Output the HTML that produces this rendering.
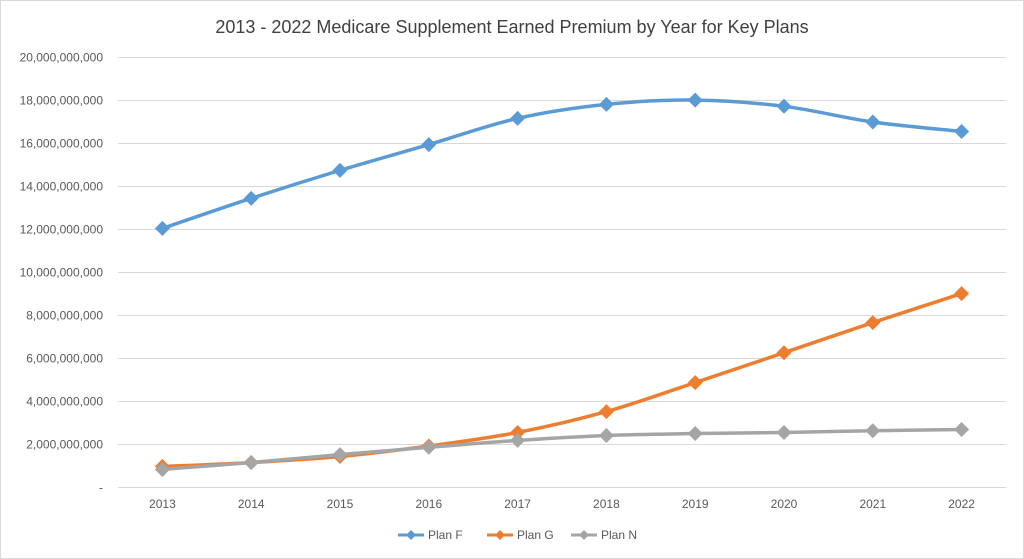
<!DOCTYPE html>
<html><head><meta charset="utf-8"><style>
html,body{margin:0;padding:0;background:#fff;}
svg{display:block;font-family:"Liberation Sans",sans-serif;}
</style></head><body>
<svg id="chart" width="1024" height="559" viewBox="0 0 1024 559">
<rect x="0.5" y="0.5" width="1023" height="558" fill="#fff" stroke="#d9d9d9"/>
<text x="512" y="33" text-anchor="middle" font-size="18" fill="#404040">2013 - 2022 Medicare Supplement Earned Premium by Year for Key Plans</text>
<g id="grid"></g><g id="yticks"></g><g id="xticks"></g><g id="series"></g><g id="legend"></g>
</svg>
<script>
const years=["2013","2014","2015","2016","2017","2018","2019","2020","2021","2022"];
const planF=[12.05,13.45,14.75,15.95,17.17,17.82,18.02,17.73,17.0,16.56];
const planG=[0.98,1.16,1.44,1.93,2.56,3.53,4.88,6.27,7.67,9.02];
const planN=[0.84,1.16,1.53,1.87,2.19,2.42,2.51,2.56,2.64,2.70];
const yTicks=[0,2,4,6,8,10,12,14,16,18,20];
const yLabels=["-","2,000,000,000","4,000,000,000","6,000,000,000","8,000,000,000","10,000,000,000","12,000,000,000","14,000,000,000","16,000,000,000","18,000,000,000","20,000,000,000"];
const seriesNames=["Plan F","Plan G","Plan N"];
const colors=["#5b9bd5","#ed7d31","#a5a5a5"];
const NS="http://www.w3.org/2000/svg";
const L=118,R=1006,T=57.5,B=487.5;
const x=i=>L+(R-L)/years.length*(i+0.5);
const y=v=>B-(B-T)*v/20;
function mk(tag,attrs,parent){const e=document.createElementNS(NS,tag);for(const k in attrs)e.setAttribute(k,attrs[k]);parent.appendChild(e);return e;}
const grid=document.getElementById('grid'),yt=document.getElementById('yticks'),xt=document.getElementById('xticks'),sg=document.getElementById('series'),lg=document.getElementById('legend');
yTicks.forEach((t,i)=>{
 const ln=mk('line',{x1:L,x2:R,y1:y(t),y2:y(t),stroke:'#d9d9d9','stroke-width':1},grid);
 
 
 const tx=mk('text',{x:103,y:y(t)+4,'text-anchor':'end','font-size':12,fill:'#595959'},yt);
 tx.textContent=yLabels[i];
 
 
});
years.forEach((yr,i)=>{
 const tx=mk('text',{x:x(i),y:508,'text-anchor':'middle','font-size':12,fill:'#595959'},xt);
 tx.textContent=yr;
 
 
});
function smooth(pts){let d=`M${pts[0][0]},${pts[0][1]}`;for(let i=0;i<pts.length-1;i++){const p0=pts[i-1]||pts[i],p1=pts[i],p2=pts[i+1],p3=pts[i+2]||p2;const t=6;d+=` C${p1[0]+(p2[0]-p0[0])/t},${p1[1]+(p2[1]-p0[1])/t} ${p2[0]-(p3[0]-p1[0])/t},${p2[1]-(p3[1]-p1[1])/t} ${p2[0]},${p2[1]}`;}return d;}
function diamond(cx,cy,r){return `M${cx},${cy-r} L${cx+r},${cy} L${cx},${cy+r} L${cx-r},${cy} Z`;}
[planF,planG,planN].forEach((data,s)=>{
 const g=mk('g',{},sg);
 
 
 const pts=data.map((v,i)=>[x(i),y(v)]);
 const p=mk('path',{d:smooth(pts),fill:'none',stroke:colors[s],'stroke-width':3.5},g);
 
 
 pts.forEach(pt=>{
  const m=mk('path',{d:diamond(pt[0],pt[1],7.5),fill:colors[s]},g);
  
  
 });
});
const lx=[398,487,571];
seriesNames.forEach((n,s)=>{
 const g=mk('g',{},lg);
 
 
 mk('line',{x1:lx[s],x2:lx[s]+26,y1:535,y2:535,stroke:colors[s],'stroke-width':3},g);
 mk('path',{d:diamond(lx[s]+13,535,5),fill:colors[s]},g);
 const t=mk('text',{x:lx[s]+30,y:539,'font-size':12,fill:'#595959'},g);
 t.textContent=n;
});
</script>
</body></html>
